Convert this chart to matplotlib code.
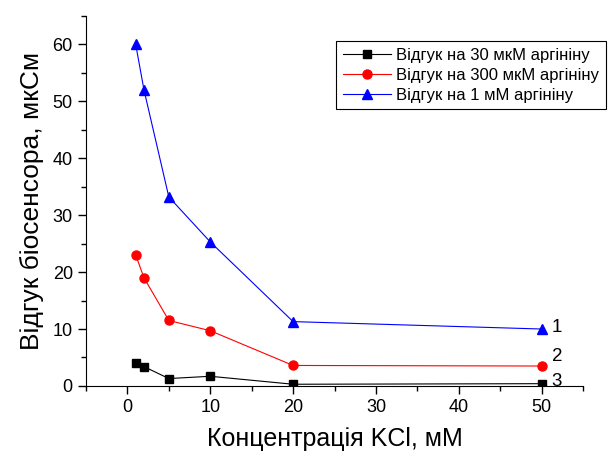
import matplotlib.pyplot as plt
from matplotlib.ticker import MultipleLocator

plt.rcParams['font.family'] = ['Liberation Sans', 'DejaVu Sans']

# концентрація KCl, мМ
kcl = [1, 2, 5, 10, 20, 50]
# відгук біосенсора, мкСм
resp_30uM = [4.0, 3.4, 1.3, 1.7, 0.3, 0.4]
resp_300uM = [23.0, 19.0, 11.5, 9.7, 3.6, 3.5]
resp_1mM = [60.0, 52.0, 33.2, 25.3, 11.3, 10.0]

labels = ['Відгук на 30 мкМ аргініну',
          'Відгук на 300 мкМ аргініну',
          'Відгук на 1 мМ аргініну']
curve_nums = ['1', '2', '3']
num_y = [10.2, 5.1, 0.7]

fig = plt.figure(figsize=(6.08, 4.53), dpi=100)
ax = fig.add_axes([0.1414, 0.148, 0.8176, 0.817])

ax.plot(kcl, resp_30uM, '-s', color='black', lw=0.8, ms=5.5, label=labels[0])
ax.plot(kcl, resp_300uM, '-o', color='red', lw=0.8, ms=6.5, label=labels[1])
ax.plot(kcl, resp_1mM, '-^', color='blue', lw=0.8, ms=7, label=labels[2])

for n, yv in zip(curve_nums, num_y):
    ax.text(51.2, yv, n, fontsize=13.5, va='center', ha='left', clip_on=False)

ax.set_xlim(-5, 55)
ax.set_ylim(0, 65)
ax.xaxis.set_major_locator(MultipleLocator(10))
ax.xaxis.set_minor_locator(MultipleLocator(5))
ax.yaxis.set_major_locator(MultipleLocator(10))
ax.yaxis.set_minor_locator(MultipleLocator(5))
ax.tick_params(which='major', length=6, width=1, labelsize=13)
ax.tick_params(which='minor', length=3.5, width=1)
ax.spines['top'].set_visible(False)
ax.spines['right'].set_visible(False)

ax.set_xlabel('Концентрація KCl, мМ', fontsize=18, labelpad=8)
ax.set_ylabel('Відгук біосенсора, мкСм', fontsize=19, labelpad=6)

# легенда виходить за правий край, як на оригіналі, але текст має влізти
leg = ax.legend(loc='upper left', bbox_to_anchor=(336 / 608, 1 - 41 / 453),
                bbox_transform=fig.transFigure, borderaxespad=0,
                fontsize=12, fancybox=False, edgecolor='black',
                framealpha=1, handlelength=2.9, labelspacing=0.3,
                handletextpad=0.3, borderpad=0.4)
leg.get_frame().set_linewidth(0.8)

fig.savefig('out.png', dpi=100)
